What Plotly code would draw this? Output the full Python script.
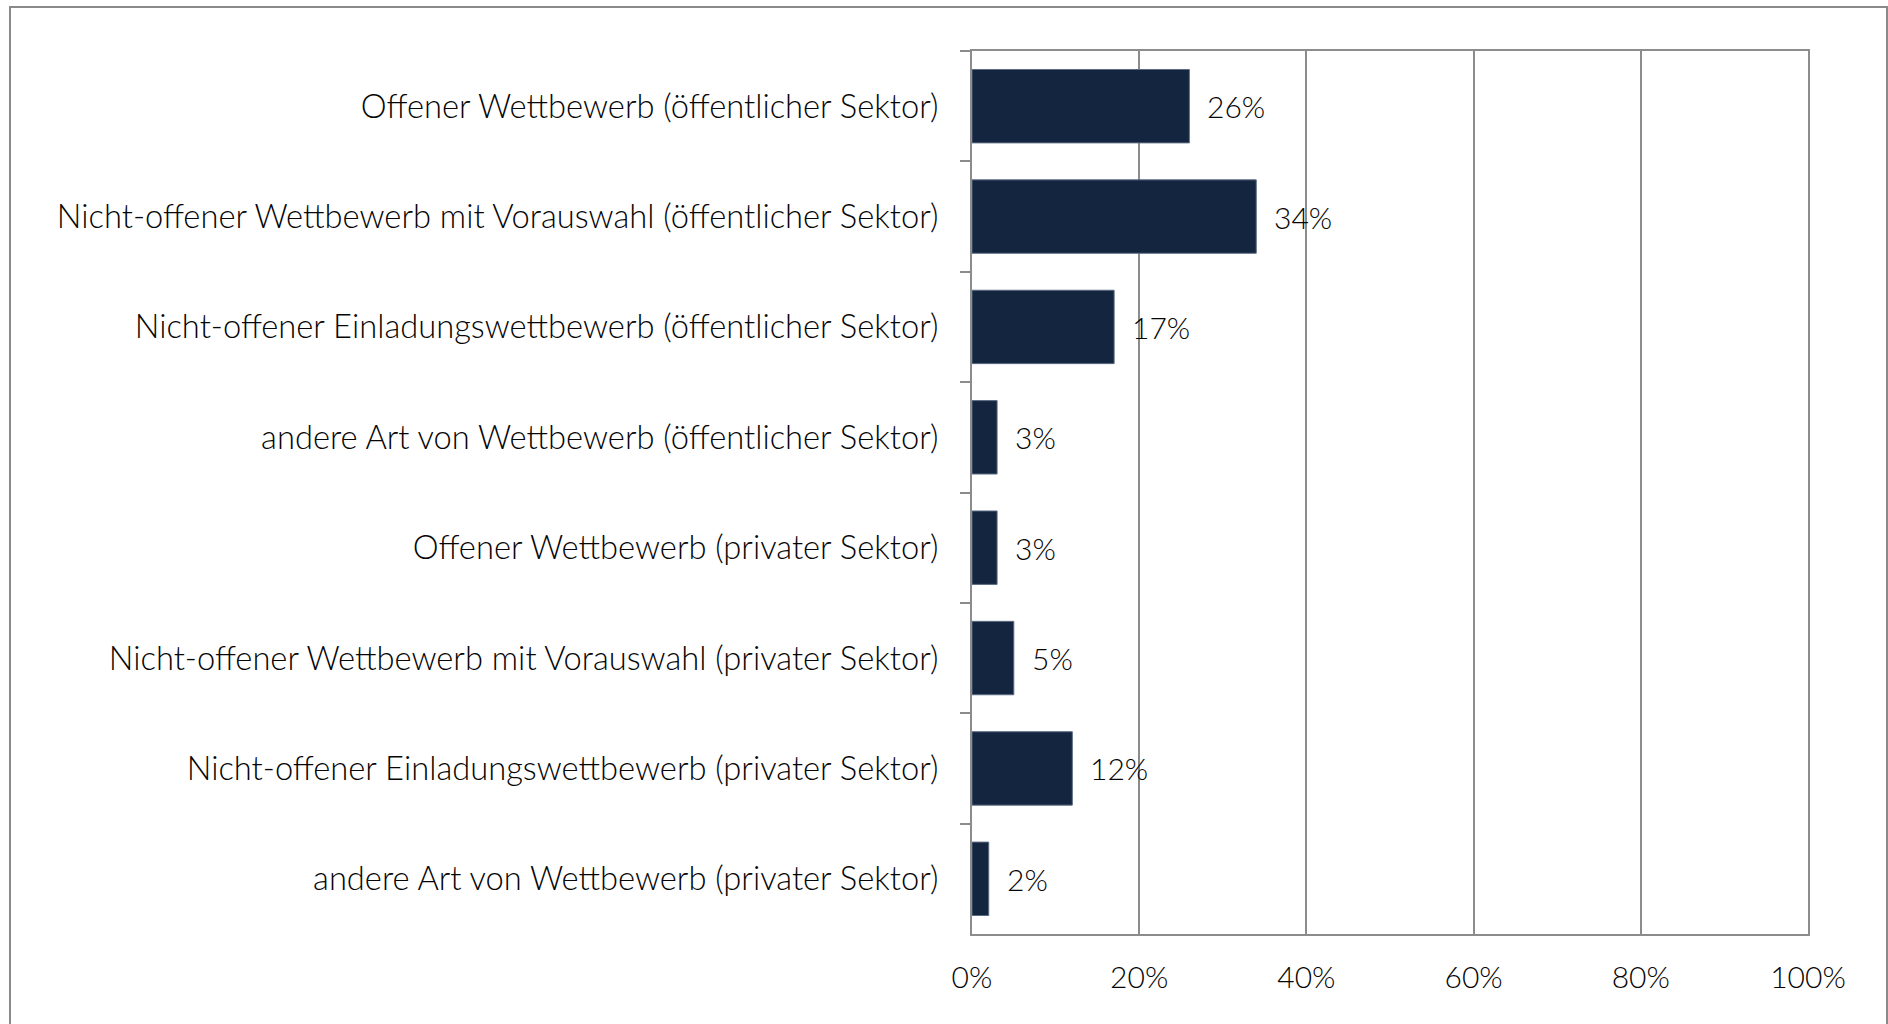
import plotly.graph_objects as go

# Survey shares by competition type
categories = [
    "Offener Wettbewerb (öffentlicher Sektor)",
    "Nicht-offener Wettbewerb mit Vorauswahl (öffentlicher Sektor)",
    "Nicht-offener Einladungswettbewerb (öffentlicher Sektor)",
    "andere Art von Wettbewerb (öffentlicher Sektor)",
    "Offener Wettbewerb (privater Sektor)",
    "Nicht-offener Wettbewerb mit Vorauswahl (privater Sektor)",
    "Nicht-offener Einladungswettbewerb (privater Sektor)",
    "andere Art von Wettbewerb (privater Sektor)",
]
shares = [26, 34, 17, 3, 3, 5, 12, 2]
x_ticks = [0, 20, 40, 60, 80, 100]

W, H = 1888, 1024
L, R, T, B = 972, 80, 51, 90
plot_w = W - L - R
plot_h = H - T - B

FONT = "Lato"
WEIGHT = 300
TEXT = "#050505"
GRID = "#8c8c8c"
BAR = "#13253f"

fig = go.Figure(
    go.Bar(
        x=shares,
        y=categories,
        orientation="h",
        marker=dict(color=BAR, line=dict(color="#5b6b82", width=1)),
        hoverinfo="skip",
    )
)

# value labels to the right of each bar
for cat, v in zip(categories, shares):
    fig.add_annotation(
        x=v, y=cat, text=f"{v}%", showarrow=False,
        xanchor="left", yanchor="middle", xshift=16,
        font=dict(family=FONT, size=30, color=TEXT, weight=WEIGHT),
    )

# outer frame of the chart area
def px_x(p):
    return (p - L) / plot_w

def px_y(p):
    return (H - B - p) / plot_h

fig.add_shape(
    type="rect", xref="paper", yref="paper",
    x0=px_x(10), x1=px_x(1887), y0=px_y(1040), y1=px_y(7),
    line=dict(color="#8a8a8a", width=2), fillcolor="rgba(0,0,0,0)",
    layer="below",
)

fig.update_layout(
    width=W, height=H,
    margin=dict(l=L, r=R, t=T, b=B, pad=0),
    paper_bgcolor="white", plot_bgcolor="white",
    showlegend=False,
    bargap=0.335,
    font=dict(family=FONT, size=30, color=TEXT, weight=WEIGHT),
)
fig.update_xaxes(
    range=[0, 100], tickvals=x_ticks, ticktext=[f"{t}%" for t in x_ticks],
    showgrid=True, gridcolor=GRID, gridwidth=1.5,
    showline=True, linecolor=GRID, linewidth=2, mirror=True,
    ticks="", zeroline=False, ticklabelstandoff=16,
    tickfont=dict(family=FONT, size=30, color=TEXT, weight=WEIGHT),
)
fig.update_yaxes(
    autorange="reversed", showgrid=False,
    showline=True, linecolor=GRID, linewidth=2, mirror=True,
    ticks="outside", tickson="boundaries", ticklen=10, tickwidth=2, tickcolor=GRID,
    ticklabelstandoff=25,
    tickfont=dict(family=FONT, size=32.7, color=TEXT, weight=WEIGHT),
)

fig.write_html("out.html")
